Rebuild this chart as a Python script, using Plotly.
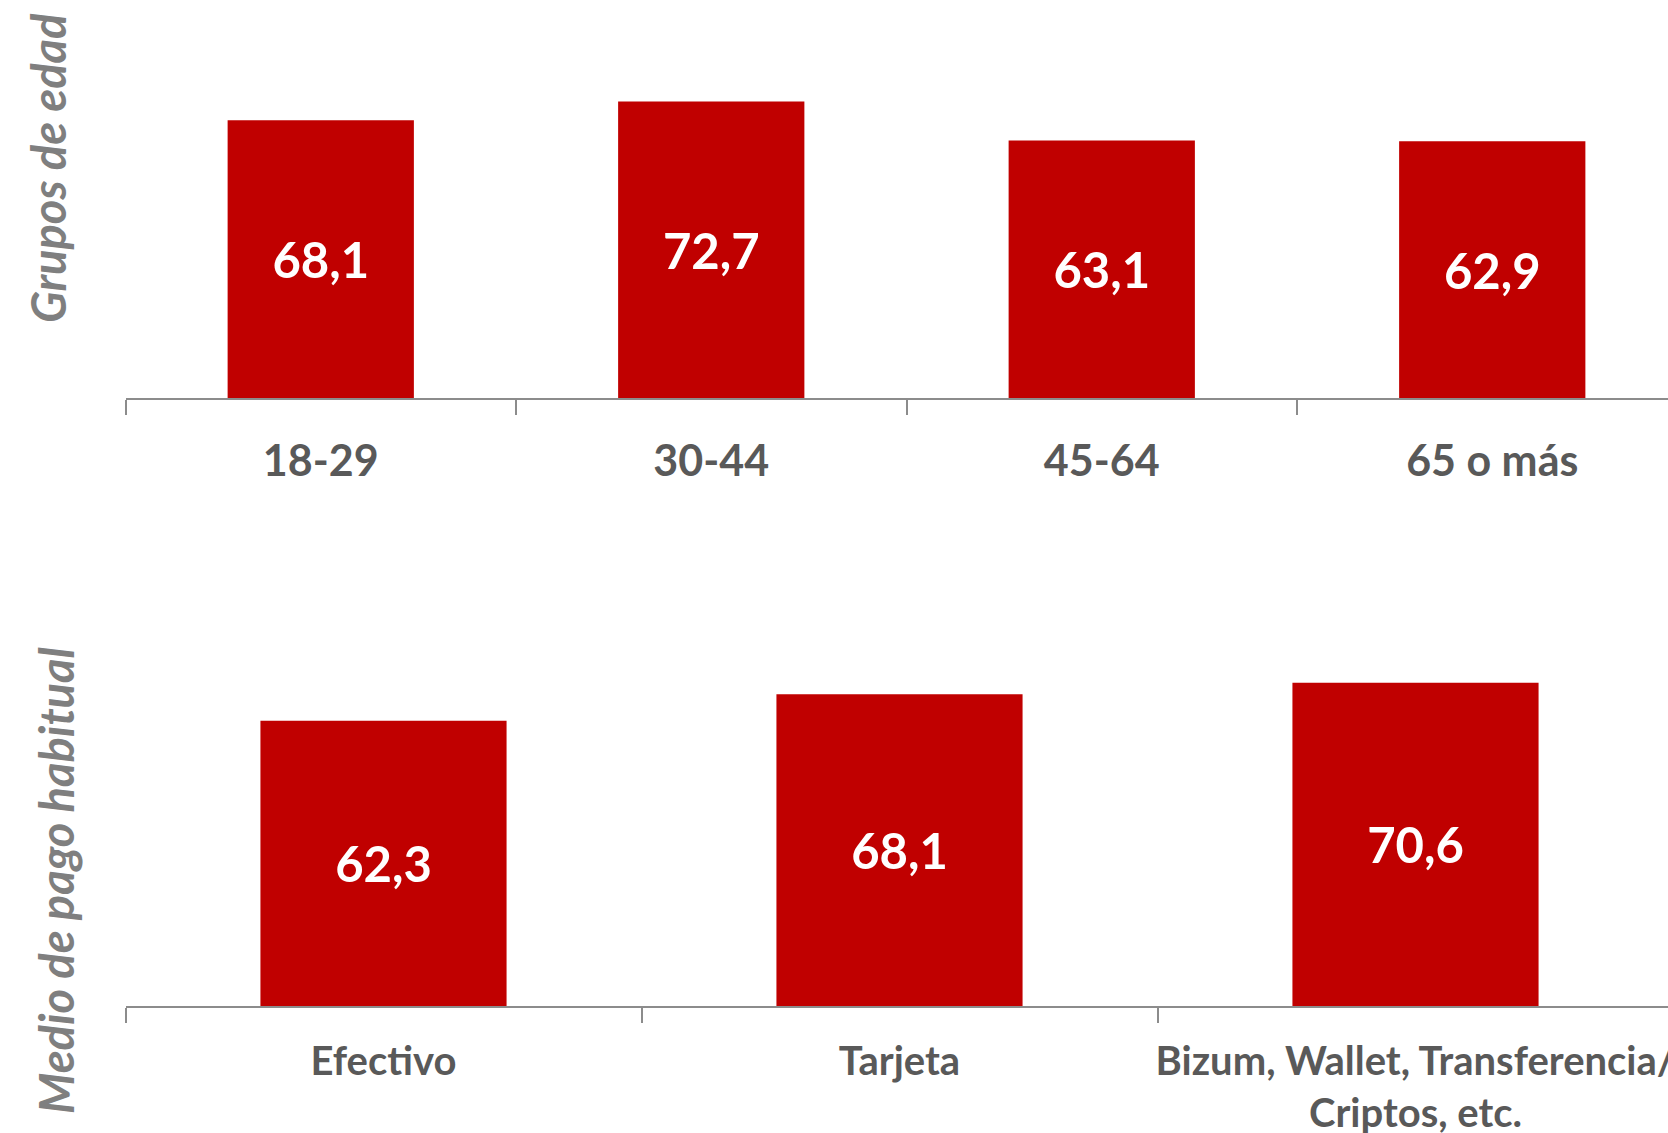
import plotly.graph_objects as go

# Data
age_groups = ["18-29", "30-44", "45-64", "65 o más"]
age_values = [68.1, 72.7, 63.1, 62.9]
pay_methods = ["Efectivo", "Tarjeta", "Bizum, Wallet, Transferencia/<br>Criptos, etc."]
pay_values = [62.3, 68.1, 70.6]

W, H = 1668, 1133
BAR = "#C00000"
LBL = "#595959"
TTL = "#7F7F7F"
AX = "#8C8C8C"
FONT = "Lato"

def fmt(v):
    return f"{v:.1f}".replace(".", ",")

fig = go.Figure()
fig.add_trace(go.Bar(
    x=age_groups, y=age_values, xaxis="x", yaxis="y",
    marker=dict(color=BAR, line=dict(width=0)), width=0.477,
    text=[fmt(v) for v in age_values], textposition="inside",
    insidetextanchor="middle", textangle=0,
    textfont=dict(family=FONT, size=49, color="white", weight="bold"),
    hoverinfo="skip", showlegend=False))
fig.add_trace(go.Bar(
    x=pay_methods, y=pay_values, xaxis="x2", yaxis="y2",
    marker=dict(color=BAR, line=dict(width=0)), width=0.477,
    text=[fmt(v) for v in pay_values], textposition="inside",
    insidetextanchor="middle", textangle=0,
    textfont=dict(family=FONT, size=49, color="white", weight="bold"),
    hoverinfo="skip", showlegend=False))

x0 = 125.5 / W
top_zero = 1 - 398 / H
bot_zero = 1 - 1006 / H
bot_top = 1 - 560 / H

def xaxis(fsize, standoff):
    return dict(
        type="category", showline=True, linecolor=AX, linewidth=2,
        ticks="outside", ticklen=15, tickcolor=AX, tickwidth=2,
        tickson="boundaries", showgrid=False, zeroline=False,
        tickangle=0, automargin=False, ticklabelstandoff=standoff,
        tickfont=dict(family=FONT, size=fsize, color=LBL, weight="bold"),
        fixedrange=True,
    )

fig.update_layout(
    width=W, height=H, margin=dict(l=0, r=0, t=0, b=0, autoexpand=False),
    paper_bgcolor="white", plot_bgcolor="white",
    xaxis=dict(domain=[x0, 1], anchor="y", range=[-0.5, -0.5 + (W - 125.5) / 390.5],
               **xaxis(43, 24)),
    yaxis=dict(domain=[top_zero, 1], anchor="x", range=[0, 398 / 4.08], visible=False),
    xaxis2=dict(domain=[x0, 1], anchor="y2", range=[-0.5, -0.5 + (W - 125.5) / 516],
                **xaxis(40, 19)),
    yaxis2=dict(domain=[bot_zero, bot_top], anchor="x2", range=[0, (1006 - 560) / 4.577], visible=False),
    bargap=0.5,
)
fig.add_annotation(text="Grupos de edad", xref="paper", yref="paper",
                   x=48 / W, y=1 - 168 / H, textangle=-90, showarrow=False,
                   font=dict(family=FONT, size=47, color=TTL, weight="bold", style="italic"),
                   xanchor="center", yanchor="middle")
fig.add_annotation(text="Medio de pago habitual", xref="paper", yref="paper",
                   x=56 / W, y=1 - 881 / H, textangle=-90, showarrow=False,
                   font=dict(family=FONT, size=47, color=TTL, weight="bold", style="italic"),
                   xanchor="center", yanchor="middle")

fig.write_html("out.html", config=dict(displayModeBar=False),
               post_script="document.body.style.margin='0';document.body.style.overflow='hidden';")
